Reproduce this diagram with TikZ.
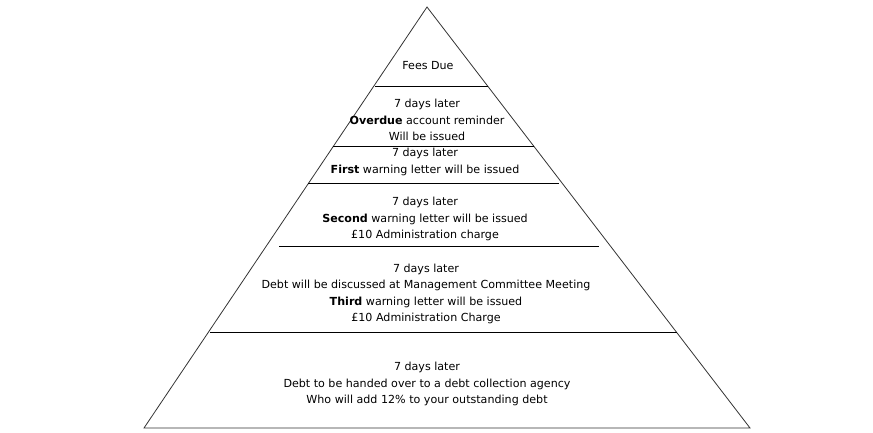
\documentclass[tikz,border=0pt]{standalone}
\usepackage{fontspec}
\setmainfont{DejaVu Sans}
\usetikzlibrary{positioning}

\begin{document}
\begin{tikzpicture}[
    x=1pt, y=-1pt,
    tier/.style={align=center, inner sep=0pt, font=\fontsize{11.1}{16.5}\selectfont},
    side/.style={line width=0.8pt, draw=black!80},
    divider/.style={line width=0.9pt}
]
\useasboundingbox (0,0) rectangle (873,433);

% the pyramid
\coordinate (apex) at (427,7);
\coordinate (baseL) at (144,428);
\coordinate (baseR) at (750,428);
\draw[side] (apex) -- (baseL) -- (baseR) -- cycle;

% dividing lines
\draw[divider] (375,86) -- (488,86);
\draw[divider] (333,146) -- (534,146);
\draw[divider] (308,183) -- (559,183);
\draw[divider] (279,246) -- (599,246);
\draw[divider] (210,332) -- (677,332);

\node[tier] (due) at (428,66) {Fees Due};
\node[tier] (overdue) at (427,120) {7 days later\\\textbf{Overdue} account reminder\\Will be issued};
\node[tier] (first) at (425,162) {7 days later\\\textbf{First} warning letter will be issued};
\node[tier] (second) at (425,219) {7 days later\\\textbf{Second} warning letter will be issued\\£10 Administration charge};
\node[tier] (third) at (426,294) {7 days later\\Debt will be discussed at Management Committee Meeting\\\textbf{Third} warning letter will be issued\\£10 Administration Charge};
\node[tier] (agency) at (427,384) {7 days later\\Debt to be handed over to a debt collection agency\\Who will add 12\% to your outstanding debt};

\end{tikzpicture}
\end{document}
